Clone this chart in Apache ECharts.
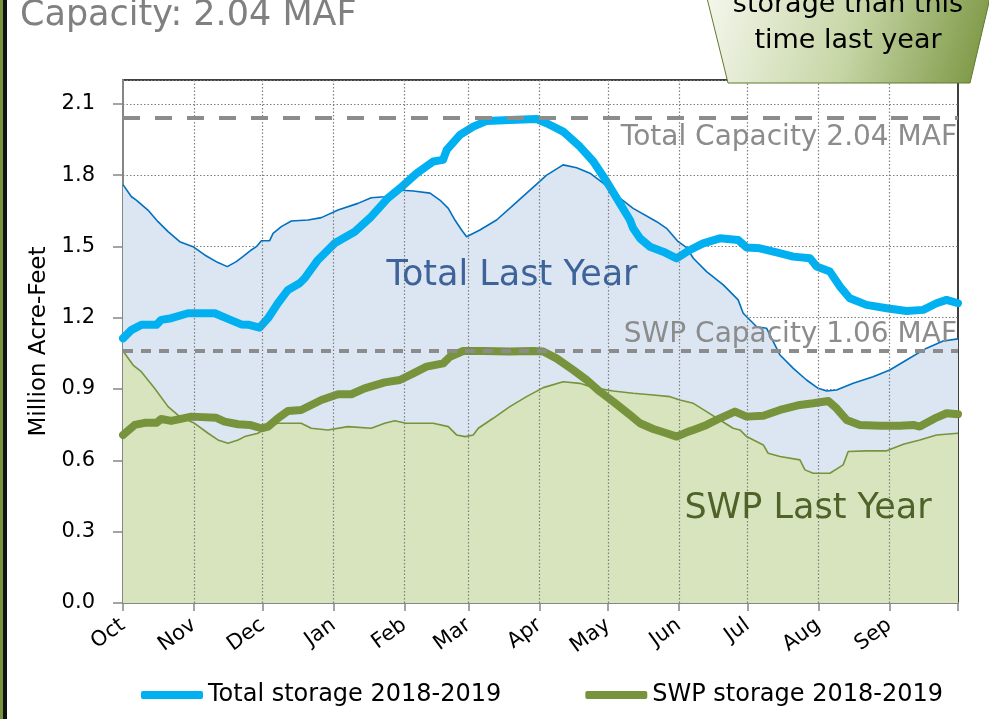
<!DOCTYPE html>
<html>
<head>
<meta charset="utf-8">
<script src="https://cdn.jsdelivr.net/npm/echarts@6/dist/echarts.min.js"></script>
<style>
  html, body { margin: 0; padding: 0; background: #fff; }
  #chart { width: 989px; height: 719px; }
</style>
</head>
<body>
<div id="chart"></div>
<script>
// month axis (days counted from Oct 1)
const months      = ['Oct', 'Nov', 'Dec', 'Jan', 'Feb', 'Mar', 'Apr', 'May', 'Jun', 'Jul', 'Aug', 'Sep'];
const monthStarts = [0, 31, 61, 92, 123, 151, 182, 212, 243, 273, 304, 335];
const yearEnd     = 365;

const capacities     = [2.04, 1.06];
const capacityLabels = ['Total Capacity 2.04 MAF', 'SWP Capacity 1.06 MAF'];

// [day, million acre-feet]
const totalLastYear = [
  [0,1.76],[3.6,1.71],[5.8,1.695],[10.9,1.653],[15.3,1.604],[19.7,1.562],[24.8,1.52],[30.6,1.499],
  [35.7,1.464],[41.5,1.432],[45.6,1.415],[49.5,1.436],[52.4,1.457],[56.1,1.485],[58.3,1.499],[60.5,1.524],
  [64.1,1.524],[65.6,1.555],[69.2,1.583],[73.6,1.607],[80.9,1.611],[86.7,1.621],[94,1.653],[102.7,1.681],
  [108.5,1.705],[114.4,1.709],[120.2,1.737],[126.9,1.733],[134.2,1.724],[138.5,1.695],[142.2,1.66],[145.1,1.611],
  [148,1.569],[150.2,1.541],[156,1.569],[163.3,1.611],[170.6,1.674],[177.9,1.737],[185.2,1.8],[192.4,1.843],
  [198.3,1.831],[204.1,1.808],[209.9,1.766],[217.2,1.703],[223,1.66],[233.3,1.604],[237.6,1.576],[242.7,1.52],
  [246.4,1.495],[249.3,1.45],[255.1,1.394],[262.4,1.338],[268.9,1.275],[271.1,1.219],[277,1.162],[281.3,1.156],
  [287.2,1.043],[293,0.987],[298.8,0.938],[303.9,0.903],[307.6,0.892],[311.9,0.896],[319.2,0.924],[327.9,0.952],
  [335.2,0.98],[342.5,1.022],[351.3,1.072],[358.5,1.102],[365,1.111]
];
const swpLastYear = [
  [0,1.06],[4.4,1.001],[8,0.973],[13.8,0.903],[19.7,0.826],[24.8,0.784],[31.3,0.756],[37.2,0.714],
  [41.5,0.686],[45.9,0.672],[50.3,0.686],[53.2,0.7],[59,0.714],[63.4,0.742],[67.7,0.756],[77.9,0.756],
  [82.3,0.735],[89.6,0.728],[98.3,0.742],[108.5,0.735],[114.4,0.756],[118.8,0.767],[123.8,0.756],[126.9,0.756],
  [135.6,0.756],[142.2,0.742],[145.8,0.707],[149.5,0.7],[153.1,0.707],[155.3,0.735],[161.8,0.777],[169.1,0.826],
  [176.4,0.868],[183.7,0.906],[192.4,0.931],[199.7,0.924],[205.6,0.906],[214.3,0.892],[223,0.882],[231.8,0.875],
  [239.1,0.868],[243.4,0.854],[249.3,0.84],[255.1,0.805],[260.9,0.77],[266.7,0.735],[269.7,0.728],[272.6,0.7],
  [279.9,0.665],[282,0.63],[287.2,0.616],[295.9,0.602],[298.1,0.56],[301.7,0.546],[309,0.546],[314.8,0.581],
  [317,0.637],[325,0.64],[333.8,0.64],[341.1,0.668],[348.3,0.686],[355.6,0.707],[365,0.714]
];
const totalStorage = [
  [0,1.113],[3.6,1.148],[8,1.17],[14.6,1.17],[16.7,1.191],[21.1,1.198],[28.4,1.219],[40.1,1.219],
  [45.9,1.195],[51.7,1.172],[55.1,1.17],[59.7,1.158],[63.4,1.198],[67.7,1.261],[72.1,1.317],[77.2,1.345],
  [79.4,1.366],[85.2,1.443],[92.5,1.513],[101.3,1.562],[108.5,1.625],[115.8,1.703],[121,1.744],[128.4,1.808],
  [135.6,1.857],[139.9,1.864],[141.5,1.906],[147.3,1.969],[153.1,2.004],[159,2.028],[169.1,2.032],[180.8,2.036],
  [185.2,2.018],[192.4,1.983],[199.7,1.92],[205.6,1.857],[211.4,1.773],[217.2,1.681],[221.6,1.611],[223,1.576],
  [226,1.534],[230.3,1.499],[236.1,1.478],[242,1.45],[247.8,1.485],[253.6,1.513],[260.9,1.534],[268.9,1.527],
  [272.6,1.495],[278.4,1.492],[285.7,1.475],[293,1.457],[300.3,1.45],[303.2,1.415],[309,1.394],[313.4,1.331],
  [317.7,1.282],[325,1.254],[333.8,1.24],[342.5,1.228],[349.8,1.233],[355.6,1.261],[360,1.275],[365,1.261]
];
const swpStorage = [
  [0,0.707],[5.1,0.749],[9.5,0.758],[14.6,0.758],[16.7,0.774],[21.1,0.766],[29.9,0.784],[40.8,0.779],
  [44.4,0.763],[50.3,0.752],[55.4,0.749],[60.5,0.735],[63.4,0.742],[67.7,0.777],[72.1,0.808],[77.9,0.812],
  [82.3,0.833],[86.7,0.854],[94,0.878],[99.8,0.878],[105.6,0.903],[114.4,0.928],[121,0.938],[126.9,0.966],
  [132.7,0.994],[140,1.008],[142.9,1.036],[148.7,1.06],[157.4,1.06],[169.1,1.058],[179.3,1.06],[183.7,1.058],
  [189.5,1.029],[196.8,0.98],[202.7,0.938],[208.5,0.889],[214.3,0.847],[221.6,0.791],[226,0.756],[231.8,0.732],
  [237.6,0.714],[242,0.7],[247.1,0.721],[249.3,0.728],[255.1,0.749],[260.9,0.777],[267.5,0.805],[272.6,0.784],
  [279.9,0.788],[287.2,0.812],[295.9,0.833],[301.7,0.84],[308.3,0.85],[311.9,0.819],[316.3,0.77],[322.1,0.749],
  [330.9,0.746],[339.6,0.746],[345.4,0.749],[348.3,0.742],[355.6,0.78],[360,0.798],[365,0.794]
];

const FONT = '"DejaVu Sans"';
const chart = echarts.init(document.getElementById('chart'));

// plain text helper for the graphic layer
const label = (x, y, text, size, fill, align) => ({
  type: 'text', x, y, z: 100, silent: true,
  style: { text, font: `${size}px ${FONT}`, fill, align, verticalAlign: 'middle' }
});

const option = {
  backgroundColor: '#fff',
  animation: false,
  grid: { left: 123, right: 31, top: 80, bottom: 116, show: true, borderColor: '#000', borderWidth: 1.5 },
  legend: {
    data: ['Total storage 2018-2019', 'SWP storage 2018-2019'],
    left: 136, top: 678,
    icon: 'roundRect', itemWidth: 62, itemHeight: 8, itemGap: 84,
    textStyle: { fontFamily: FONT, fontSize: 24, color: '#000' }
  },
  xAxis: {
    type: 'value', min: 0, max: yearEnd,
    axisLine: { lineStyle: { color: '#868686', width: 2 } },
    axisTick: { customValues: [...monthStarts, yearEnd], length: 8, lineStyle: { color: '#868686', width: 1.5 } },
    axisLabel: {
      customValues: monthStarts, rotate: 36, margin: 20,
      fontFamily: FONT, fontSize: 21, color: '#000',
      formatter: v => months[monthStarts.indexOf(v)]
    },
    splitLine: { show: false }
  },
  yAxis: {
    type: 'value', min: 0, max: 2.2, interval: 0.3,
    name: 'Million Acre-Feet', nameLocation: 'middle', nameGap: 72,
    nameTextStyle: { fontFamily: FONT, fontSize: 23, color: '#000' },
    axisLine: { show: true, lineStyle: { color: '#868686', width: 2 } },
    axisTick: { show: true, length: 10, lineStyle: { color: '#868686', width: 1.5 } },
    axisLabel: { showMaxLabel: false, margin: 28, fontFamily: FONT, fontSize: 21, color: '#000', formatter: v => v.toFixed(1) },
    splitLine: { lineStyle: { type: [1.5, 2], color: '#7f7f7f', width: 1.2 } }
  },
  series: [
    {
      // vertical month gridlines, behind the areas
      type: 'line', data: [], z: 1, silent: true,
      markLine: {
        silent: true, symbol: 'none', label: { show: false },
        lineStyle: { type: [1.5, 2], color: '#7f7f7f', width: 1.2 },
        data: monthStarts.slice(1).map(d => ({ xAxis: d }))
      }
    },
    {
      name: 'Total Last Year', type: 'line', data: totalLastYear, z: 2,
      showSymbol: false, silent: true,
      lineStyle: { color: '#0070c0', width: 1.6 },
      areaStyle: { color: '#dce6f2', opacity: 1 }
    },
    {
      name: 'SWP Last Year', type: 'line', data: swpLastYear, z: 3,
      showSymbol: false, silent: true,
      lineStyle: { color: '#77933c', width: 1.6 },
      areaStyle: { color: '#d7e4bd', opacity: 1 }
    },
    {
      name: 'Total storage 2018-2019', type: 'line', data: totalStorage, z: 4,
      showSymbol: false, color: '#00b0f0',
      lineStyle: { color: '#00b0f0', width: 8, cap: 'round', join: 'round' }
    },
    {
      name: 'SWP storage 2018-2019', type: 'line', data: swpStorage, z: 4,
      showSymbol: false, color: '#77933c',
      lineStyle: { color: '#77933c', width: 8, cap: 'round', join: 'round' }
    },
    {
      // capacity lines, drawn on top
      type: 'line', data: [], z: 6, silent: true,
      markLine: {
        silent: true, symbol: 'none', label: { show: false },
        lineStyle: { color: '#8c8c8c', width: 4 },
        data: [
          { yAxis: capacities[0], lineStyle: { type: [17, 15] } },
          { yAxis: capacities[1], lineStyle: { type: [10, 8] } }
        ]
      }
    }
  ],
  graphic: [
    { type: 'rect', z: 100, shape: { x: 0, y: 0, width: 3, height: 719 }, style: { fill: '#77933c' } },
    { type: 'rect', z: 100, shape: { x: 3, y: 0, width: 4, height: 719 }, style: { fill: '#111' } },
    label(20, 16, 'Capacity: 2.04 MAF', 35, '#808080', 'left'),
    {
      type: 'polygon', z: 99,
      shape: { points: [[707, -2], [728, 83], [970, 83], [990, -2]] },
      style: {
        fill: new echarts.graphic.LinearGradient(0, 0, 1, 1, [
          { offset: 0, color: '#f4f7ec' },
          { offset: 0.5, color: '#c7d6a6' },
          { offset: 1, color: '#76923c' }
        ]),
        stroke: '#5f7a2e', lineWidth: 1
      }
    },
    label(848, 5, 'storage than this', 27, '#000', 'center'),
    label(848, 41, 'time last year', 27, '#000', 'center'),
    label(957, 138, capacityLabels[0], 28, '#8c8c8c', 'right'),
    label(957, 335, capacityLabels[1], 28, '#8c8c8c', 'right'),
    label(512, 276, 'Total Last Year', 35, '#3d6399', 'center'),
    label(808, 509, 'SWP Last Year', 35, '#4f6228', 'center')
  ]
};

chart.setOption(option);
</script>
</body>
</html>
